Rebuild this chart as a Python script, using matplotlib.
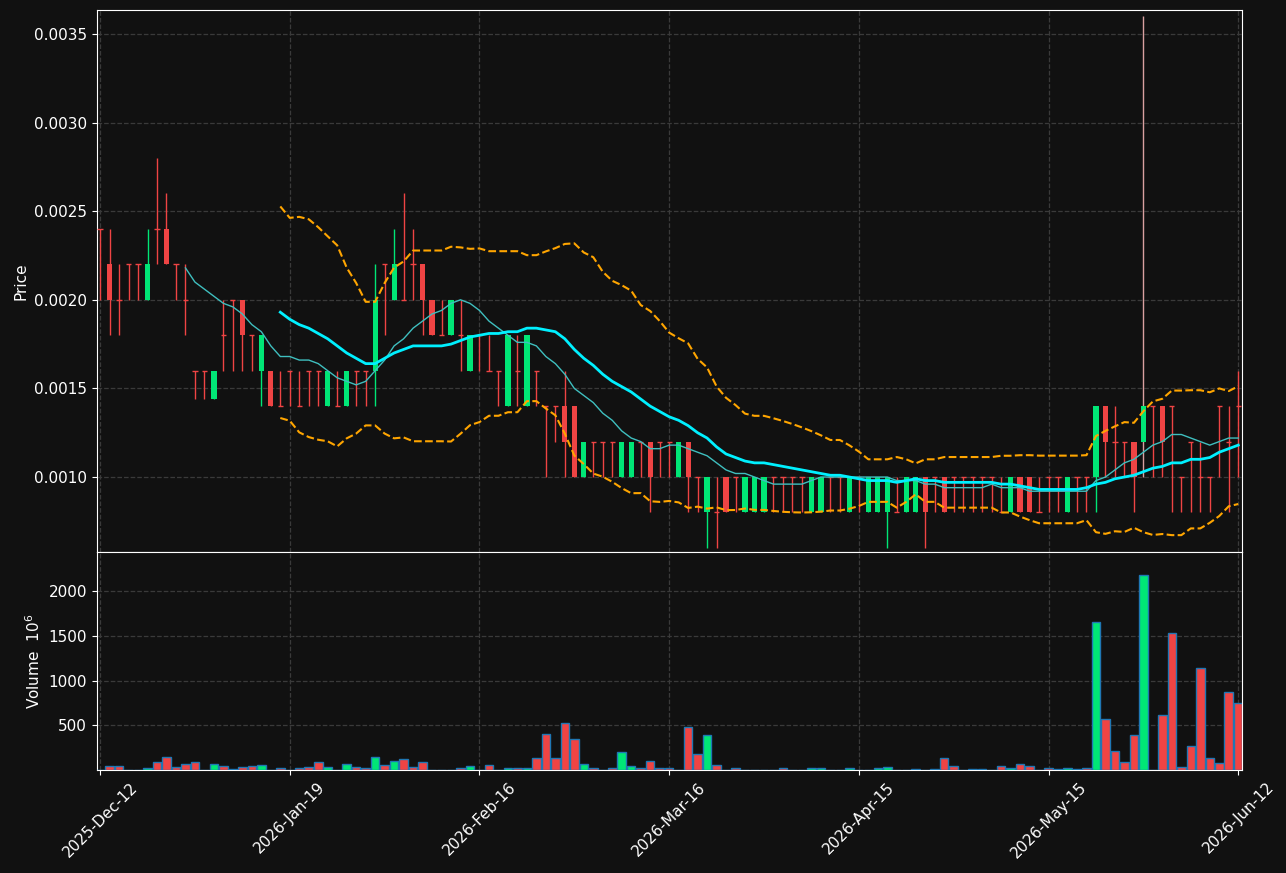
import matplotlib
matplotlib.use("Agg")
import matplotlib.pyplot as plt
import numpy as np
import pandas as pd

# OHLC in units of 1e-4
opens  = [24,22,20,22,22,20,24,24,22,20,16,16,14.4,18,20,20,18,16,16,14,
          16,14,16,16,14,14,14,16,16,16,22,20,20,22,22,20,18,18,18,16,
          18,16,16,14,16,14,16,14,14,14,14,10,12,12,12,10,10,12,12,12,
          12,10,12,10,8,8,10,10,8,8,8,10,10,10,10,8,8,10,10,8,
          10,8,8,8,8,8,8,10,10,10,10,10,10,10,10,8,8,10,10,8,
          10,10,8,10,10,10,14,12,12,12,12,14,14,14,10,12,10,10,14,12,14]
highs  = [24,24,22,22,22,24,28,26,22,22,16,16,16,20,20,20,18,18,16,16,
          16,16,16,16,16,16,16,16,16,22,22,24,26,24,22,20,20,20,20,18,
          18,18,16,18,18,18,16,14,14,16,14,12,12,12,12,12,12,12,12,12,
          12,12,12,10,10,10,10,10,10,10,10,10,10,10,10,10,10,10,10,10,
          10,10,10,10,10,10,10,10,10,10,10,10,10,10,10,10,10,10,10,10,
          10,10,10,10,10,14,14,14,12,12,36,14,14,14,10,12,12,10,14,14,16]
lows   = [20,18,18,20,20,20,22,22,20,18,14.4,14.4,14.4,16,16,16,16,14,14,14,
          14,14,14,14,14,14,14,14,14,14,18,20,20,20,18,18,18,18,16,16,
          16,16,14,14,14,14,14,10,12,10,10,10,10,10,10,10,10,10,8,10,
          10,10,8,8,6,6,8,8,8,8,8,8,8,8,8,8,8,8,8,8,
          8,8,8,6,8,8,8,6,8,8,8,8,8,8,8,8,8,8,8,8,
          8,8,8,8,8,8,10,10,10,8,10,10,10,8,8,8,8,8,10,8,10]
closes = [24,20,20,22,22,22,24,22,22,20,16,16,16,18,20,18,18,18,14,14,
          16,14,16,16,16,14,16,16,16,20,22,22,20,22,20,18,18,20,18,18,
          18,16,16,18,16,18,16,14,14,12,10,12,12,12,12,12,12,12,10,12,
          12,12,10,10,10,8,8,10,10,10,10,10,10,10,10,10,10,10,10,10,
          10,10,10,10,8,10,10,8,10,8,10,10,10,10,10,8,10,8,8,8,
          10,10,10,10,10,14,12,12,12,10,14,14,12,14,10,12,10,10,14,12,14]
volumes = [0,50,40,0,0,18,85,150,30,67,85,0,63,40,15,30,40,52,0,18,
           0,18,30,85,30,0,63,30,18,140,52,96,118,37,85,3,3,0,18,40,
           3,52,0,18,18,18,130,407,130,530,352,63,18,0,18,196,40,18,96,18,
           18,0,485,174,396,52,3,18,3,3,3,3,18,3,3,18,18,3,3,18,
           3,3,22,33,3,3,11,3,11,133,44,3,11,11,3,44,22,67,44,3,
           22,11,22,11,22,1655,567,211,89,389,2178,0,611,1537,33,267,1144,133,78,867,744]
tick_pos = [0, 20, 40, 60, 80, 100, 120]
tick_labels = ["2025-Dec-12", "2026-Jan-19", "2026-Feb-16", "2026-Mar-16",
               "2026-Apr-15", "2026-May-15", "2026-Jun-12"]

o = np.array(opens) * 1e-4
h = np.array(highs) * 1e-4
l = np.array(lows) * 1e-4
c = np.array(closes) * 1e-4
v = np.array(volumes, dtype=float)
x = np.arange(len(c))

BG = "#111111"
UP = "#00e676"
DN = "#ef4444"
cols = np.where(c > o, UP, DN)
wick_cols = cols.copy()
wick_cols[h - np.maximum(o, c) > 0.001] = "#d9a0a0"

fig = plt.figure(figsize=(12.86, 8.73), dpi=100, facecolor=BG)
ax = fig.add_axes([0.0754, 0.3677, 0.8904, 0.6208], facecolor=BG)
axv = fig.add_axes([0.0754, 0.118, 0.8904, 0.2497], facecolor=BG, sharex=ax)

# candles
ax.vlines(x, l, h, colors=wick_cols, linewidth=1, zorder=2)
bw = 0.55
body_lo = np.minimum(o, c)
body_h = np.abs(c - o)
ax.bar(x, body_h, bottom=body_lo, width=bw, color=cols, linewidth=0, zorder=3)
doji = body_h == 0
ax.hlines(o[doji], x[doji] - bw / 2, x[doji] + bw / 2, colors=cols[doji], linewidth=1, zorder=3)

cs = pd.Series(c)
ma10 = cs.rolling(10).mean()
ma20 = cs.rolling(20).mean()
sd20 = cs.rolling(20).std(ddof=0)
ax.plot(x, ma10, color="#3fbfbf", linewidth=1, zorder=4)
ax.plot(x, ma20, color="#00f0ff", linewidth=2, zorder=4)
ax.plot(x, ma20 + 2 * sd20, color="#ffa500", linewidth=1.5, linestyle="--", zorder=4)
ax.plot(x, ma20 - 2 * sd20, color="#ffa500", linewidth=1.5, linestyle="--", zorder=4)

# volume
axv.bar(x, v, width=0.9, color=cols, edgecolor="#1f77b4", linewidth=1, zorder=3)

ax.set_xlim(-0.33, 120.4)
ax.set_ylim(0.000577, 0.003635)
ax.set_yticks([0.0010, 0.0015, 0.0020, 0.0025, 0.0030, 0.0035])
ax.set_yticklabels([f"{t:.4f}" for t in ax.get_yticks()])
axv.set_ylim(0, 2438)
axv.set_yticks([500, 1000, 1500, 2000])
axv.set_xticks(tick_pos)
axv.set_xticklabels(tick_labels, rotation=45, ha="center")
plt.setp(ax.get_xticklabels(), visible=False)

ax.set_ylabel("Price", color="white", fontsize=11)
axv.set_ylabel("Volume  $10^6$", color="white", fontsize=11)

for a in (ax, axv):
    a.grid(True, color="#3a3a3a", linestyle="--", linewidth=0.9)
    a.set_axisbelow(True)
    a.tick_params(colors="white", labelsize=11)
    for s in a.spines.values():
        s.set_color("white")

fig.savefig("out.png", dpi=100, facecolor=BG)
